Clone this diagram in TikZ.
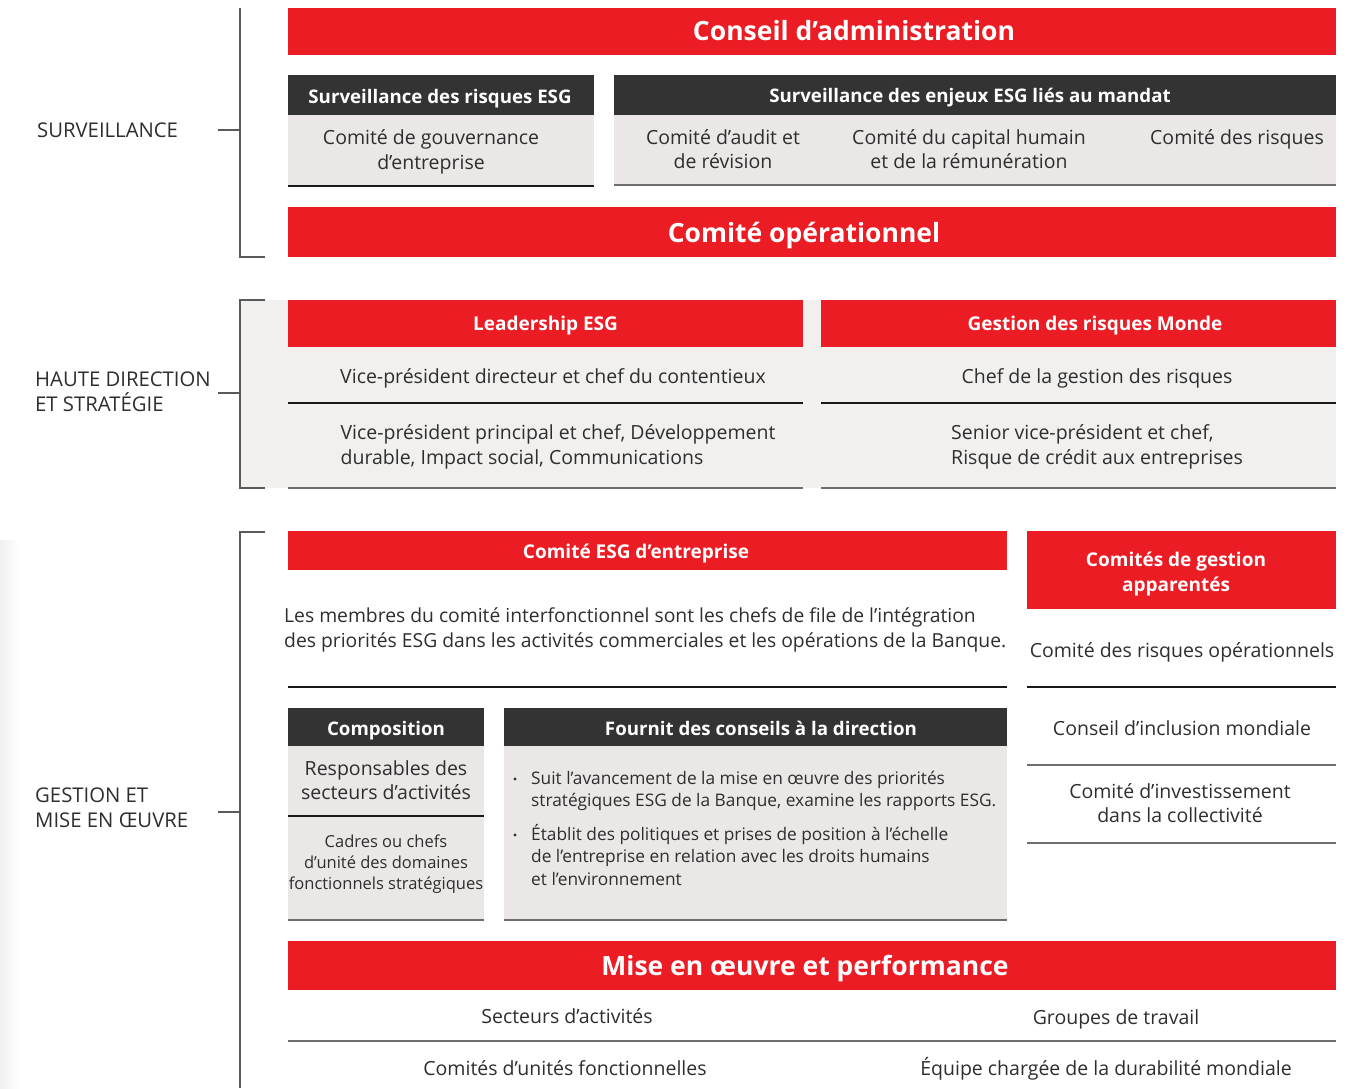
\documentclass[tikz,border=0pt]{standalone}
\usepackage{fontspec}
\setmainfont{Open Sans}
\definecolor{sred}{HTML}{EC1C24}
\definecolor{sdark}{HTML}{333333}
\definecolor{sbody}{HTML}{EAE7E6}
\definecolor{sbg}{HTML}{F1F0EF}
\definecolor{stext}{HTML}{2E2E2E}
\definecolor{sline}{HTML}{6E6E6E}
\definecolor{sbrk}{HTML}{5A5A5A}
\begin{document}
\begin{tikzpicture}[x=1pt,y=-1pt,
  box/.style={anchor=north west,inner sep=0pt,outer sep=0pt},
  redbox/.style={box,fill=sred},
  darkbox/.style={box,fill=sdark},
  graybox/.style={box,fill=sbody},
  bigtitle/.style={inner sep=0pt,text=white,font=\bfseries\fontsize{26.5}{31}\selectfont},
  subtitle/.style={inner sep=0pt,align=center,text=white,font=\bfseries\fontsize{19}{25}\selectfont},
  headtitle/.style={inner sep=0pt,text=white,font=\bfseries\fontsize{18.7}{24}\selectfont},
  txt/.style={inner sep=0pt,align=center,text=stext,font=\fontsize{19.5}{24.5}\selectfont},
  smalltxt/.style={inner sep=0pt,align=left,text=stext,font=\fontsize{17.3}{22.5}\selectfont},
  cadretxt/.style={inner sep=0pt,align=center,text=stext,font=\fontsize{16.5}{21}\selectfont},
  lab/.style={inner sep=0pt,anchor=west,align=left,text=stext,font=\fontsize{20.3}{25}\selectfont},
  darkline/.style={draw=black!90,line width=1.2pt},
  grayline/.style={draw=sline,line width=1.8pt},
  brk/.style={draw=sbrk,line width=1.1pt}
]
\useasboundingbox (0,0) rectangle (1354,1088);
\fill[white] (0,0) rectangle (1354,1088);
\shade[left color=black!6,right color=white] (0,540) rectangle (18,1088);

% ---------- Section 1 ----------
\coordinate (b1t) at (240,8);
\coordinate (b1b) at (240,257);
\coordinate (b1e) at (265,257);
\coordinate (b1m) at (240,130);
\coordinate (b1l) at (218,130);
\draw[brk] (b1t) -- (b1b) -- (b1e);
\draw[brk] (b1l) -- (b1m);
\node[lab] (l1) at (37,130) {SURVEILLANCE};

\node[redbox,minimum width=1048,minimum height=47] (cda) at (288,8) {};
\node[bigtitle] (cdat) at (854,30.5) {Conseil d’administration};

\node[darkbox,minimum width=306,minimum height=40] (h1) at (288,75) {};
\node[headtitle] (h1t) at (440,99) {Surveillance des risques ESG};
\node[graybox,minimum width=306,minimum height=71] (g1) at (288,115) {};
\node[txt] (t11) at (431,152) {Comité de gouvernance\\d’entreprise};
\draw[darkline] (g1.south west) -- (g1.south east);

\node[darkbox,minimum width=722,minimum height=40] (h2) at (614,75) {};
\node[headtitle] (h2t) at (970,98) {Surveillance des enjeux ESG liés au mandat};
\node[graybox,minimum width=722,minimum height=70] (g2) at (614,115) {};
\node[txt] (t21) at (723,149) {Comité d’audit et\\de révision};
\node[txt] (t22) at (969,149) {Comité du capital humain\\et de la rémunération};
\node[txt,anchor=north] (t23) at (1237,129) {Comité des risques};
\draw[grayline] (g2.south west) -- (g2.south east);

\node[redbox,minimum width=1048,minimum height=50] (cop) at (288,207) {};
\node[bigtitle] (copt) at (804,236) {Comité opérationnel};

% ---------- Section 2 ----------
\fill[sbg] (240,300) rectangle (1336,488);
\coordinate (b2t) at (240,300);
\coordinate (b2te) at (265,300);
\coordinate (b2b) at (240,488);
\coordinate (b2be) at (265,488);
\coordinate (b2m) at (240,393);
\coordinate (b2l) at (218,393);
\draw[brk] (b2te) -- (b2t) -- (b2b) -- (b2be);
\draw[brk] (b2l) -- (b2m);
\node[lab] (l2) at (35,392) {HAUTE DIRECTION\\ET STRATÉGIE};

\node[redbox,minimum width=515,minimum height=47] (lead) at (288,300) {};
\node[subtitle] (leadt) at (545.5,325.5) {Leadership ESG};
\node[txt] (t31) at (553,378) {Vice-président directeur et chef du contentieux};
\coordinate (l3a) at (288,403); \coordinate (l3b) at (803,403);
\draw[darkline] (l3a) -- (l3b);
\node[txt,align=left] (t32) at (558,447) {Vice-président principal et chef, Développement\\durable, Impact social, Communications};
\coordinate (l4a) at (288,488); \coordinate (l4b) at (803,488);
\draw[grayline] (l4a) -- (l4b);

\node[redbox,minimum width=515,minimum height=47] (grm) at (821,300) {};
\node[subtitle] (grmt) at (1095,325.5) {Gestion des risques Monde};
\node[txt] (t41) at (1097,378) {Chef de la gestion des risques};
\coordinate (l5a) at (821,403); \coordinate (l5b) at (1336,403);
\draw[darkline] (l5a) -- (l5b);
\node[txt,align=left] (t42) at (1097,447) {Senior vice-président et chef,\\Risque de crédit aux entreprises};
\coordinate (l6a) at (821,488); \coordinate (l6b) at (1336,488);
\draw[grayline] (l6a) -- (l6b);

% ---------- Section 3 ----------
\coordinate (b3t) at (240,532);
\coordinate (b3te) at (265,532);
\coordinate (b3b) at (240,1088);
\coordinate (b3m) at (240,812);
\coordinate (b3l) at (218,812);
\draw[brk] (b3te) -- (b3t) -- (b3b);
\draw[brk] (b3l) -- (b3m);
\node[lab] (l3) at (35,808) {GESTION ET\\MISE EN ŒUVRE};

\node[redbox,minimum width=719,minimum height=39] (cesg) at (288,531) {};
\node[subtitle] (cesgt) at (636,553.5) {Comité ESG d’entreprise};
\node[txt,align=left,anchor=west,font=\fontsize{19.3}{24.5}\selectfont] (t51) at (284,630) {Les membres du comité interfonctionnel sont les chefs de file de l’intégration\\des priorités ESG dans les activités commerciales et les opérations de la Banque.};
\coordinate (l7a) at (288,687); \coordinate (l7b) at (1007,687);
\draw[darkline] (l7a) -- (l7b);

\node[redbox,minimum width=309,minimum height=78] (cga) at (1027,531) {};
\node[subtitle] (cgat) at (1176,574) {Comités de gestion\\apparentés};
\node[txt] (t61) at (1182,652) {Comité des risques opérationnels};
\coordinate (l8a) at (1027,687); \coordinate (l8b) at (1336,687);
\draw[darkline] (l8a) -- (l8b);
\node[txt] (t62) at (1182,728) {Conseil d’inclusion mondiale};
\coordinate (l9a) at (1027,765); \coordinate (l9b) at (1336,765);
\draw[grayline] (l9a) -- (l9b);
\node[txt] (t63) at (1180,803) {Comité d’investissement\\dans la collectivité};
\coordinate (l10a) at (1027,843); \coordinate (l10b) at (1336,843);
\draw[grayline] (l10a) -- (l10b);

\node[darkbox,minimum width=196,minimum height=38] (comp) at (288,708) {};
\node[headtitle] (compt) at (386,731) {Composition};
\node[graybox,minimum width=196,minimum height=174] (g3) at (288,746) {};
\node[txt] (t71) at (386,780) {Responsables des\\secteurs d’activités};
\coordinate (l11a) at (288,816); \coordinate (l11b) at (484,816);
\draw[darkline] (l11a) -- (l11b);
\node[cadretxt] (t72) at (386,864) {Cadres ou chefs\\d’unité des domaines\\fonctionnels stratégiques};
\draw[grayline] (g3.south west) -- (g3.south east);

\node[darkbox,minimum width=503,minimum height=38] (fcd) at (504,708) {};
\node[headtitle] (fcdt) at (761,728) {Fournit des conseils à la direction};
\node[graybox,minimum width=503,minimum height=174] (g4) at (504,746) {};
\node[smalltxt,anchor=base west] (b1) at (531,806.5) {Suit l’avancement de la mise en œuvre des priorités\\stratégiques ESG de la Banque, examine les rapports ESG.};
\node[smalltxt,anchor=base west] (b2) at (531,885) {Établit des politiques et prises de position à l’échelle\\de l’entreprise en relation avec les droits humains\\et l’environnement};
\fill[stext] (515,779) circle (1.6);
\fill[stext] (515,835) circle (1.6);
\draw[grayline] (g4.south west) -- (g4.south east);

\node[redbox,minimum width=1048,minimum height=49] (mop) at (288,941) {};
\node[bigtitle] (mopt) at (805,968.5) {Mise en œuvre et performance};
\node[txt] (t81) at (567,1016) {Secteurs d’activités};
\node[txt] (t82) at (1116,1019) {Groupes de travail};
\coordinate (l12a) at (288,1041); \coordinate (l12b) at (1336,1041);
\draw[grayline] (l12a) -- (l12b);
\node[txt] (t83) at (565,1068) {Comités d’unités fonctionnelles};
\node[txt] (t84) at (1106,1069) {Équipe chargée de la durabilité mondiale};
\end{tikzpicture}
\end{document}
